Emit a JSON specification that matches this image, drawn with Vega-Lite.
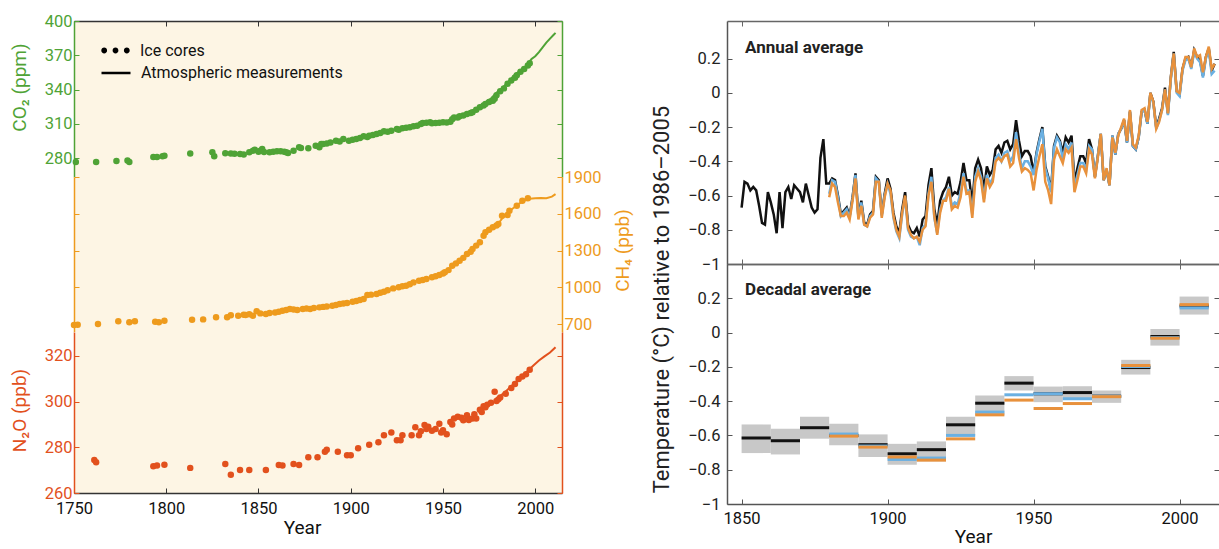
{
  "$schema": "https://vega.github.io/schema/vega-lite/v6.json",
  "background": "white",
  "padding": {"left": 10, "top": 13, "right": 0, "bottom": 0},
  "bounds": "full",
  "spacing": 18,
  "config": {
    "font": "Roboto, Liberation Sans, sans-serif",
    "view": {"stroke": null},
    "axis": {"grid": false, "labelFlush": false, "labelOverlap": false, "tickSize": -5, "tickWidth": 1, "domainWidth": 1.5, "labelFontSize": 16.5, "titleFontSize": 19, "titleFontWeight": "normal", "labelPadding": 7, "labelColor": "#222", "titleColor": "#222", "domainColor": "#444", "tickColor": "#444"}
  },
  "datasets": {
    "co2Ice": [
      {"year":1751,"v":276.5},{"year":1762,"v":276.5},{"year":1773,"v":277.4},{"year":1779,"v":277.8},{"year":1780,"v":276.5},{"year":1793,"v":281},{"year":1795,"v":281},{"year":1798,"v":281.5},{"year":1799,"v":282},{"year":1813,"v":284},{"year":1825,"v":285},{"year":1826,"v":281.5},{"year":1832,"v":284.1},{"year":1835,"v":283.9},{"year":1837,"v":283.8},{"year":1840,"v":283.5},{"year":1842,"v":283.2},{"year":1845,"v":285},{"year":1847,"v":286.4},{"year":1848,"v":287.3},{"year":1850,"v":285.6},{"year":1851,"v":286.4},{"year":1852,"v":288},{"year":1853,"v":285.2},{"year":1856,"v":285},{"year":1858,"v":285.5},{"year":1860,"v":285.9},{"year":1862,"v":285.9},{"year":1864,"v":285.5},{"year":1865,"v":285},{"year":1866,"v":284.4},{"year":1869,"v":286.4},{"year":1872,"v":289.4},{"year":1873,"v":288.8},{"year":1877,"v":288.5},{"year":1881,"v":290.8},{"year":1883,"v":289.4},{"year":1884,"v":292.3},{"year":1885,"v":292.3},{"year":1887,"v":292.8},{"year":1889,"v":293.7},{"year":1892,"v":295.2},{"year":1894,"v":294.5},{"year":1896,"v":296.6},{"year":1899,"v":295.2},{"year":1901,"v":296},{"year":1903,"v":296.6},{"year":1905,"v":297.5},{"year":1907,"v":299},{"year":1909,"v":298.5},{"year":1910,"v":299.5},{"year":1912,"v":300.2},{"year":1914,"v":301},{"year":1916,"v":302},{"year":1918,"v":303.4},{"year":1920,"v":303},{"year":1922,"v":303.9},{"year":1925,"v":305.4},{"year":1926,"v":304.8},{"year":1928,"v":306},{"year":1930,"v":306.5},{"year":1932,"v":306.9},{"year":1934,"v":307.8},{"year":1936,"v":308.3},{"year":1938,"v":309.8},{"year":1939,"v":310.7},{"year":1941,"v":311},{"year":1943,"v":311.3},{"year":1944,"v":310.5},{"year":1946,"v":310.7},{"year":1948,"v":311},{"year":1950,"v":311.3},{"year":1952,"v":311.2},{"year":1954,"v":311.8},{"year":1955,"v":314},{"year":1956,"v":315.6},{"year":1958,"v":315.5},{"year":1959,"v":316.5},{"year":1961,"v":317.3},{"year":1963,"v":318.5},{"year":1965,"v":319.5},{"year":1966,"v":320},{"year":1968,"v":322.3},{"year":1970,"v":324.4},{"year":1972,"v":326},{"year":1973,"v":327.3},{"year":1975,"v":329},{"year":1977,"v":330.2},{"year":1978,"v":332},{"year":1979,"v":335},{"year":1981,"v":338.5},{"year":1983,"v":341},{"year":1985,"v":345},{"year":1987,"v":348},{"year":1989,"v":350.4},{"year":1990,"v":352.5},{"year":1992,"v":355.5},{"year":1994,"v":358},{"year":1996,"v":361},{"year":1997,"v":363}
    ],
    "co2Atm": [
      {"year":1958,"v":315.3},{"year":1960,"v":316.9},{"year":1962,"v":318.4},{"year":1964,"v":319.6},{"year":1966,"v":321.4},{"year":1968,"v":323},{"year":1970,"v":325.7},{"year":1972,"v":327.5},{"year":1974,"v":330.2},{"year":1976,"v":332.1},{"year":1978,"v":335.4},{"year":1980,"v":338.8},{"year":1982,"v":341.1},{"year":1984,"v":344.4},{"year":1986,"v":347.2},{"year":1988,"v":351.6},{"year":1990,"v":354.4},{"year":1992,"v":356.4},{"year":1994,"v":358.8},{"year":1996,"v":362.6},{"year":1998,"v":366.7},{"year":2000,"v":369.2},{"year":2002,"v":372.8},{"year":2004,"v":377},{"year":2006,"v":381},{"year":2008,"v":384.6},{"year":2010,"v":388},{"year":2011,"v":389.6}
    ],
    "ch4Ice": [
      {"year":1750,"v":692},{"year":1752,"v":694},{"year":1763,"v":700},{"year":1774,"v":722},{"year":1780,"v":714},{"year":1783,"v":722},{"year":1794,"v":719},{"year":1796,"v":714},{"year":1799,"v":727},{"year":1814,"v":735},{"year":1820,"v":738},{"year":1827,"v":755},{"year":1833,"v":755},{"year":1835,"v":771},{"year":1839,"v":768},{"year":1842,"v":776},{"year":1843,"v":773},{"year":1845,"v":780},{"year":1847,"v":768},{"year":1849,"v":804},{"year":1851,"v":787},{"year":1854,"v":782},{"year":1856,"v":790},{"year":1859,"v":795},{"year":1861,"v":800},{"year":1863,"v":809},{"year":1865,"v":815},{"year":1867,"v":822},{"year":1869,"v":818},{"year":1871,"v":814},{"year":1874,"v":822},{"year":1876,"v":826},{"year":1878,"v":822},{"year":1880,"v":830},{"year":1883,"v":836},{"year":1885,"v":840},{"year":1887,"v":844},{"year":1890,"v":849},{"year":1892,"v":855},{"year":1894,"v":863},{"year":1896,"v":867},{"year":1898,"v":871},{"year":1901,"v":882},{"year":1903,"v":888},{"year":1905,"v":896},{"year":1907,"v":905},{"year":1909,"v":937},{"year":1911,"v":940},{"year":1914,"v":945},{"year":1916,"v":955},{"year":1918,"v":964},{"year":1920,"v":975},{"year":1923,"v":991},{"year":1926,"v":1000},{"year":1928,"v":1008},{"year":1930,"v":1013},{"year":1932,"v":1025},{"year":1934,"v":1040},{"year":1937,"v":1053},{"year":1939,"v":1060},{"year":1941,"v":1067},{"year":1944,"v":1081},{"year":1946,"v":1090},{"year":1948,"v":1100},{"year":1950,"v":1112},{"year":1951,"v":1122},{"year":1953,"v":1140},{"year":1955,"v":1176},{"year":1957,"v":1195},{"year":1959,"v":1217},{"year":1961,"v":1240},{"year":1963,"v":1271},{"year":1965,"v":1290},{"year":1966,"v":1312},{"year":1968,"v":1340},{"year":1970,"v":1367},{"year":1972,"v":1420},{"year":1973,"v":1449},{"year":1975,"v":1470},{"year":1977,"v":1489},{"year":1979,"v":1505},{"year":1980,"v":1516},{"year":1982,"v":1584},{"year":1985,"v":1589},{"year":1986,"v":1625},{"year":1990,"v":1666},{"year":1993,"v":1707},{"year":1996,"v":1726}
    ],
    "ch4Atm": [
      {"year":1979,"v":1500},{"year":1982,"v":1560},{"year":1985,"v":1610},{"year":1988,"v":1645},{"year":1991,"v":1680},{"year":1994,"v":1705},{"year":1997,"v":1722},{"year":2000,"v":1727},{"year":2003,"v":1728},{"year":2006,"v":1727},{"year":2009,"v":1740},{"year":2011,"v":1760}
    ],
    "n2oIce": [
      {"year":1761,"v":274.5},{"year":1762,"v":273.5},{"year":1793,"v":271.7},{"year":1795,"v":272},{"year":1799,"v":272.4},{"year":1813,"v":271},{"year":1832,"v":272.7},{"year":1835,"v":268},{"year":1840,"v":270.1},{"year":1845,"v":270.1},{"year":1854,"v":270.1},{"year":1861,"v":272.3},{"year":1863,"v":272},{"year":1869,"v":272.7},{"year":1872,"v":272.3},{"year":1877,"v":275.7},{"year":1882,"v":275.7},{"year":1886,"v":278.1},{"year":1887,"v":278.9},{"year":1893,"v":278.1},{"year":1898,"v":276.5},{"year":1900,"v":276.5},{"year":1904,"v":279.6},{"year":1910,"v":281.1},{"year":1915,"v":282.2},{"year":1918,"v":285.3},{"year":1922,"v":286.5},{"year":1925,"v":283.1},{"year":1927,"v":283.1},{"year":1928,"v":285.3},{"year":1933,"v":285.3},{"year":1935,"v":288.8},{"year":1937,"v":285.3},{"year":1938,"v":287},{"year":1940,"v":289.8},{"year":1941,"v":288},{"year":1942,"v":289},{"year":1944,"v":287.3},{"year":1946,"v":288},{"year":1948,"v":290.3},{"year":1949,"v":286.5},{"year":1950,"v":287.5},{"year":1952,"v":285.7},{"year":1954,"v":291.1},{"year":1955,"v":290},{"year":1956,"v":292.6},{"year":1958,"v":293.4},{"year":1960,"v":293},{"year":1961,"v":291.9},{"year":1963,"v":294.1},{"year":1964,"v":292},{"year":1966,"v":292.6},{"year":1967,"v":294.5},{"year":1968,"v":292.6},{"year":1970,"v":296.5},{"year":1971,"v":295.5},{"year":1972,"v":298},{"year":1973,"v":297.5},{"year":1974,"v":298.7},{"year":1976,"v":299.5},{"year":1978,"v":304.3},{"year":1979,"v":300.3},{"year":1980,"v":301},{"year":1981,"v":301.8},{"year":1984,"v":303.5},{"year":1987,"v":306},{"year":1989,"v":307.7},{"year":1991,"v":309.9},{"year":1993,"v":311},{"year":1995,"v":312},{"year":1997,"v":314}
    ],
    "n2oAtm": [
      {"year":1978,"v":300.5},{"year":1981,"v":302.5},{"year":1984,"v":304.5},{"year":1987,"v":306.8},{"year":1990,"v":309},{"year":1993,"v":311.2},{"year":1996,"v":313.5},{"year":1999,"v":315.8},{"year":2002,"v":318},{"year":2005,"v":319.8},{"year":2008,"v":321.5},{"year":2011,"v":323.8}
    ],
    "annual": [
      {"year":1850,"black":-0.67},{"year":1851,"black":-0.52},{"year":1852,"black":-0.53},{"year":1853,"black":-0.57},{"year":1854,"black":-0.55},{"year":1855,"black":-0.57},{"year":1856,"black":-0.66},{"year":1857,"black":-0.76},{"year":1858,"black":-0.77},{"year":1859,"black":-0.58},
      {"year":1860,"black":-0.64},{"year":1861,"black":-0.71},{"year":1862,"black":-0.82},{"year":1863,"black":-0.58},{"year":1864,"black":-0.79},{"year":1865,"black":-0.58},{"year":1866,"black":-0.55},{"year":1867,"black":-0.62},{"year":1868,"black":-0.54},{"year":1869,"black":-0.56},
      {"year":1870,"black":-0.58},{"year":1871,"black":-0.64},{"year":1872,"black":-0.53},{"year":1873,"black":-0.60},{"year":1874,"black":-0.67},{"year":1875,"black":-0.70},{"year":1876,"black":-0.68},{"year":1877,"black":-0.38},{"year":1878,"black":-0.27},{"year":1879,"black":-0.53},
      {"year":1880,"black":-0.53,"blue":-0.59,"orange":-0.61},{"year":1881,"black":-0.50,"blue":-0.51,"orange":-0.53},{"year":1882,"black":-0.51,"blue":-0.52,"orange":-0.55},{"year":1883,"black":-0.60,"blue":-0.61,"orange":-0.64},{"year":1884,"black":-0.71,"blue":-0.72,"orange":-0.72},{"year":1885,"black":-0.69,"blue":-0.70,"orange":-0.72},{"year":1886,"black":-0.67,"blue":-0.68,"orange":-0.70},{"year":1887,"black":-0.72,"blue":-0.73,"orange":-0.74},{"year":1888,"black":-0.61,"blue":-0.62,"orange":-0.63},{"year":1889,"black":-0.47,"blue":-0.48,"orange":-0.50},
      {"year":1890,"black":-0.72,"blue":-0.73,"orange":-0.74},{"year":1891,"black":-0.63,"blue":-0.64,"orange":-0.66},{"year":1892,"black":-0.76,"blue":-0.77,"orange":-0.77},{"year":1893,"black":-0.77,"blue":-0.78,"orange":-0.78},{"year":1894,"black":-0.71,"blue":-0.72,"orange":-0.73},{"year":1895,"black":-0.69,"blue":-0.70,"orange":-0.71},{"year":1896,"black":-0.49,"blue":-0.50,"orange":-0.52},{"year":1897,"black":-0.51,"blue":-0.52,"orange":-0.52},{"year":1898,"black":-0.71,"blue":-0.72,"orange":-0.73},{"year":1899,"black":-0.59,"blue":-0.60,"orange":-0.61},
      {"year":1900,"black":-0.50,"blue":-0.53,"orange":-0.53},{"year":1901,"black":-0.56,"blue":-0.59,"orange":-0.57},{"year":1902,"black":-0.70,"blue":-0.73,"orange":-0.72},{"year":1903,"black":-0.78,"blue":-0.81,"orange":-0.80},{"year":1904,"black":-0.82,"blue":-0.85,"orange":-0.84},{"year":1905,"black":-0.68,"blue":-0.71,"orange":-0.70},{"year":1906,"black":-0.58,"blue":-0.61,"orange":-0.60},{"year":1907,"black":-0.77,"blue":-0.80,"orange":-0.79},{"year":1908,"black":-0.81,"blue":-0.84,"orange":-0.83},{"year":1909,"black":-0.82,"blue":-0.85,"orange":-0.85},
      {"year":1910,"black":-0.79,"blue":-0.84,"orange":-0.84},{"year":1911,"black":-0.84,"blue":-0.89,"orange":-0.87},{"year":1912,"black":-0.74,"blue":-0.79,"orange":-0.80},{"year":1913,"black":-0.72,"blue":-0.77,"orange":-0.78},{"year":1914,"black":-0.54,"blue":-0.59,"orange":-0.60},{"year":1915,"black":-0.44,"blue":-0.49,"orange":-0.52},{"year":1916,"black":-0.68,"blue":-0.73,"orange":-0.72},{"year":1917,"black":-0.77,"blue":-0.82,"orange":-0.83},{"year":1918,"black":-0.63,"blue":-0.68,"orange":-0.70},{"year":1919,"black":-0.58,"blue":-0.63,"orange":-0.63},
      {"year":1920,"black":-0.55,"blue":-0.61,"orange":-0.63},{"year":1921,"black":-0.49,"blue":-0.55,"orange":-0.56},{"year":1922,"black":-0.60,"blue":-0.66,"orange":-0.68},{"year":1923,"black":-0.58,"blue":-0.64,"orange":-0.66},{"year":1924,"black":-0.59,"blue":-0.65,"orange":-0.67},{"year":1925,"black":-0.52,"blue":-0.58,"orange":-0.61},{"year":1926,"black":-0.41,"blue":-0.47,"orange":-0.49},{"year":1927,"black":-0.51,"blue":-0.57,"orange":-0.59},{"year":1928,"black":-0.51,"blue":-0.57,"orange":-0.58},{"year":1929,"black":-0.65,"blue":-0.71,"orange":-0.73},
      {"year":1930,"black":-0.44,"blue":-0.49,"orange":-0.52},{"year":1931,"black":-0.39,"blue":-0.44,"orange":-0.46},{"year":1932,"black":-0.44,"blue":-0.49,"orange":-0.51},{"year":1933,"black":-0.57,"blue":-0.62,"orange":-0.64},{"year":1934,"black":-0.43,"blue":-0.48,"orange":-0.50},{"year":1935,"black":-0.48,"blue":-0.53,"orange":-0.55},{"year":1936,"black":-0.45,"blue":-0.50,"orange":-0.52},{"year":1937,"black":-0.33,"blue":-0.38,"orange":-0.40},{"year":1938,"black":-0.31,"blue":-0.36,"orange":-0.38},{"year":1939,"black":-0.35,"blue":-0.40,"orange":-0.40},
      {"year":1940,"black":-0.29,"blue":-0.35,"orange":-0.37},{"year":1941,"black":-0.28,"blue":-0.34,"orange":-0.36},{"year":1942,"black":-0.33,"blue":-0.40,"orange":-0.43},{"year":1943,"black":-0.30,"blue":-0.37,"orange":-0.41},{"year":1944,"black":-0.16,"blue":-0.23,"orange":-0.27},{"year":1945,"black":-0.28,"blue":-0.35,"orange":-0.38},{"year":1946,"black":-0.37,"blue":-0.44,"orange":-0.46},{"year":1947,"black":-0.34,"blue":-0.40,"orange":-0.44},{"year":1948,"black":-0.34,"blue":-0.40,"orange":-0.45},{"year":1949,"black":-0.37,"blue":-0.43,"orange":-0.47},
      {"year":1950,"black":-0.47,"blue":-0.48,"orange":-0.57},{"year":1951,"black":-0.35,"blue":-0.36,"orange":-0.45},{"year":1952,"black":-0.27,"blue":-0.28,"orange":-0.37},{"year":1953,"black":-0.20,"blue":-0.21,"orange":-0.30},{"year":1954,"black":-0.43,"blue":-0.44,"orange":-0.52},{"year":1955,"black":-0.49,"blue":-0.50,"orange":-0.57},{"year":1956,"black":-0.57,"blue":-0.58,"orange":-0.65},{"year":1957,"black":-0.31,"blue":-0.32,"orange":-0.39},{"year":1958,"black":-0.25,"blue":-0.26,"orange":-0.33},{"year":1959,"black":-0.28,"blue":-0.29,"orange":-0.37},
      {"year":1960,"black":-0.35,"blue":-0.39,"orange":-0.41},{"year":1961,"black":-0.26,"blue":-0.30,"orange":-0.33},{"year":1962,"black":-0.29,"blue":-0.33,"orange":-0.35},{"year":1963,"black":-0.25,"blue":-0.29,"orange":-0.32},{"year":1964,"black":-0.52,"blue":-0.55,"orange":-0.58},{"year":1965,"black":-0.44,"blue":-0.48,"orange":-0.51},{"year":1966,"black":-0.37,"blue":-0.41,"orange":-0.43},{"year":1967,"black":-0.37,"blue":-0.41,"orange":-0.43},{"year":1968,"black":-0.41,"blue":-0.45,"orange":-0.47},{"year":1969,"black":-0.27,"blue":-0.31,"orange":-0.33},
      {"year":1970,"black":-0.33,"blue":-0.33,"orange":-0.36},{"year":1971,"black":-0.49,"blue":-0.49,"orange":-0.50},{"year":1972,"black":-0.37,"blue":-0.37,"orange":-0.38},{"year":1973,"black":-0.24,"blue":-0.24,"orange":-0.24},{"year":1974,"black":-0.51,"blue":-0.51,"orange":-0.51},{"year":1975,"black":-0.45,"blue":-0.45,"orange":-0.44},{"year":1976,"black":-0.54,"blue":-0.54,"orange":-0.54},{"year":1977,"black":-0.25,"blue":-0.25,"orange":-0.26},{"year":1978,"black":-0.36,"blue":-0.36,"orange":-0.35},{"year":1979,"black":-0.24,"blue":-0.24,"orange":-0.25},
      {"year":1980,"black":-0.21,"blue":-0.21,"orange":-0.20},{"year":1981,"black":-0.16,"blue":-0.16,"orange":-0.15},{"year":1982,"black":-0.29,"blue":-0.29,"orange":-0.28},{"year":1983,"black":-0.11,"blue":-0.11,"orange":-0.10},{"year":1984,"black":-0.31,"blue":-0.31,"orange":-0.30},{"year":1985,"black":-0.33,"blue":-0.33,"orange":-0.32},{"year":1986,"black":-0.26,"blue":-0.26,"orange":-0.25},{"year":1987,"black":-0.11,"blue":-0.11,"orange":-0.10},{"year":1988,"black":-0.10,"blue":-0.10,"orange":-0.09},{"year":1989,"black":-0.18,"blue":-0.18,"orange":-0.17},
      {"year":1990,"black":0.00,"blue":-0.01,"orange":0.00},{"year":1991,"black":-0.05,"blue":-0.06,"orange":-0.05},{"year":1992,"black":-0.20,"blue":-0.21,"orange":-0.21},{"year":1993,"black":-0.15,"blue":-0.16,"orange":-0.17},{"year":1994,"black":-0.09,"blue":-0.10,"orange":-0.10},{"year":1995,"black":0.03,"blue":0.02,"orange":0.02},{"year":1996,"black":-0.12,"blue":-0.13,"orange":-0.12},{"year":1997,"black":0.09,"blue":0.08,"orange":0.09},{"year":1998,"black":0.24,"blue":0.23,"orange":0.23},{"year":1999,"black":0.01,"blue":0.00,"orange":0.01},
      {"year":2000,"black":-0.01,"blue":-0.02,"orange":0.00},{"year":2001,"black":0.14,"blue":0.13,"orange":0.14},{"year":2002,"black":0.20,"blue":0.19,"orange":0.21},{"year":2003,"black":0.21,"blue":0.20,"orange":0.21},{"year":2004,"black":0.15,"blue":0.14,"orange":0.15},{"year":2005,"black":0.25,"blue":0.24,"orange":0.26},{"year":2006,"black":0.21,"blue":0.20,"orange":0.21},{"year":2007,"black":0.19,"blue":0.18,"orange":0.22},{"year":2008,"black":0.10,"blue":0.09,"orange":0.12},{"year":2009,"black":0.21,"blue":0.20,"orange":0.21},{"year":2010,"black":0.26,"blue":0.25,"orange":0.27},{"year":2011,"black":0.13,"blue":0.11,"orange":0.14},{"year":2012,"black":0.17,"blue":0.13,"orange":0.17}
    ],
    "decadal": [
      {"start":1850,"end":1860,"lo":-0.703,"hi":-0.536,"black":-0.615},
      {"start":1860,"end":1870,"lo":-0.711,"hi":-0.561,"black":-0.631},
      {"start":1870,"end":1880,"lo":-0.619,"hi":-0.491,"black":-0.555},
      {"start":1880,"end":1890,"lo":-0.658,"hi":-0.532,"black":-0.600,"blue":-0.592,"orange":-0.604},
      {"start":1890,"end":1900,"lo":-0.726,"hi":-0.594,"black":-0.654,"blue":-0.662,"orange":-0.668},
      {"start":1900,"end":1910,"lo":-0.771,"hi":-0.649,"black":-0.707,"blue":-0.740,"orange":-0.726},
      {"start":1910,"end":1920,"lo":-0.751,"hi":-0.635,"black":-0.683,"blue":-0.732,"orange":-0.744},
      {"start":1920,"end":1930,"lo":-0.600,"hi":-0.491,"black":-0.538,"blue":-0.600,"orange":-0.620},
      {"start":1930,"end":1940,"lo":-0.483,"hi":-0.367,"black":-0.412,"blue":-0.464,"orange":-0.480},
      {"start":1940,"end":1950,"lo":-0.338,"hi":-0.254,"black":-0.295,"blue":-0.363,"orange":-0.394},
      {"start":1950,"end":1960,"lo":-0.406,"hi":-0.315,"black":-0.357,"blue":-0.357,"orange":-0.443},
      {"start":1960,"end":1970,"lo":-0.386,"hi":-0.313,"black":-0.350,"blue":-0.386,"orange":-0.414},
      {"start":1970,"end":1980,"lo":-0.410,"hi":-0.338,"black":-0.371,"blue":-0.372,"orange":-0.374},
      {"start":1980,"end":1990,"lo":-0.245,"hi":-0.159,"black":-0.204,"blue":-0.198,"orange":-0.192},
      {"start":1990,"end":2000,"lo":-0.076,"hi":0.021,"black":-0.023,"blue":-0.030,"orange":-0.033},
      {"start":2000,"end":2010,"lo":0.105,"hi":0.210,"black":0.155,"blue":0.144,"orange":0.163}
    ]
  },
  "hconcat": [
    {
      "spacing": 0,
      "bounds": "flush",
      "vconcat": [
        {
          "width": 488, "height": 156,
          "view": {"fill": "#fdf5e4", "stroke": null},
          "encoding": {"x": {"field": "year", "type": "quantitative", "scale": {"domain": [1750, 2014.5], "nice": false, "zero": false}, "axis": {"orient": "top", "values": [1750,1800,1850,1900,1950,2000], "labels": false, "title": null, "domainColor": "#333", "tickColor": "#333"}}},
          "layer": [
            {"data": {"name": "co2Ice"}, "mark": {"type": "circle", "size": 42, "color": "#4fa336", "opacity": 1},
             "encoding": {"y": {"field": "v", "type": "quantitative", "scale": {"domain": [263.4, 400], "nice": false, "zero": false},
               "axis": {"orient": "left", "values": [280,310,340,370,400], "title": "CO₂ (ppm)", "titleX": -55, "titleY": 66, "titleAngle": -90, "titleAlign": "center", "titleBaseline": "middle", "labelColor": "#4fa336", "titleColor": "#4fa336", "domainColor": "#4fa336", "tickColor": "#4fa336"}}}},
            {"data": {"name": "co2Atm"}, "mark": {"type": "line", "color": "#4fa336", "strokeWidth": 2},
             "encoding": {"y": {"field": "v", "type": "quantitative", "axis": {"orient": "right", "values": [280,310,340,370,400], "labels": false, "title": null, "domainColor": "#4fa336", "tickColor": "#4fa336"}}}},
            {"data": {"values": [{"k": "Ice cores"}]},
             "mark": {"type": "point", "filled": true, "color": "black", "opacity": 1},
             "encoding": {"shape": {"field": "k", "type": "nominal",
               "scale": {"domain": ["Ice cores"], "range": ["M-0.98,0A0.2,0.2,0,1,1,-0.58,0A0.2,0.2,0,1,1,-0.98,0ZM-0.2,0A0.2,0.2,0,1,1,0.2,0A0.2,0.2,0,1,1,-0.2,0ZM0.58,0A0.2,0.2,0,1,1,0.98,0A0.2,0.2,0,1,1,0.58,0Z"]},
               "legend": {"orient": "none", "legendX": 26, "legendY": 14, "title": null, "symbolSize": 841, "symbolFillColor": "black", "symbolStrokeColor": "black", "symbolStrokeWidth": 2, "symbolOpacity": 1, "labelFontSize": 16, "labelColor": "#111", "labelOffset": 9, "labelLimit": 400}}}},
            {"data": {"values": [{"k": "Atmospheric measurements"}]},
             "mark": {"type": "line", "color": "black", "strokeWidth": 2.5},
             "encoding": {"strokeDash": {"field": "k", "type": "nominal",
               "scale": {"domain": ["Atmospheric measurements"], "range": [[1, 0]]},
               "legend": {"orient": "none", "legendX": 26, "legendY": 36, "title": null, "symbolSize": 841, "symbolStrokeColor": "black", "symbolStrokeWidth": 2.5, "symbolOpacity": 1, "labelFontSize": 16, "labelColor": "#111", "labelOffset": 9, "labelLimit": 400}}}}
          ],
          "resolve": {"axis": {"y": "independent"}}
        },
        {
          "width": 488, "height": 155,
          "view": {"fill": "#fdf5e4", "stroke": null},
          "encoding": {"x": {"field": "year", "type": "quantitative", "scale": {"domain": [1750, 2014.5], "nice": false, "zero": false}, "axis": null}},
          "layer": [
            {"data": {"name": "ch4Ice"}, "mark": {"type": "circle", "size": 42, "color": "#ee9b1d", "opacity": 1},
             "encoding": {"y": {"field": "v", "type": "quantitative", "scale": {"domain": [635, 1900], "nice": false, "zero": false},
               "axis": {"orient": "left", "values": [700,1000,1300,1600,1900], "labels": false, "title": null, "domainColor": "#ee9b1d", "tickColor": "#ee9b1d"}}}},
            {"data": {"name": "ch4Atm"}, "mark": {"type": "line", "color": "#ee9b1d", "strokeWidth": 2},
             "encoding": {"y": {"field": "v", "type": "quantitative",
               "axis": {"orient": "right", "values": [700,1000,1300,1600,1900], "format": "d", "title": "CH₄ (ppb)", "titleX": 60, "titleY": 73, "titleAngle": -90, "titleAlign": "center", "titleBaseline": "middle", "labelColor": "#ee9b1d", "titleColor": "#ee9b1d", "domainColor": "#ee9b1d", "tickColor": "#ee9b1d"}}}}
          ],
          "resolve": {"axis": {"y": "independent"}}
        },
        {
          "width": 488, "height": 161,
          "view": {"fill": "#fdf5e4", "stroke": null},
          "encoding": {"x": {"field": "year", "type": "quantitative", "scale": {"domain": [1750, 2014.5], "nice": false, "zero": false}, "axis": {"orient": "bottom", "values": [1750,1800,1850,1900,1950,2000], "format": "d", "title": "Year", "titleX": 228, "labelPadding": 12, "labelColor": "#111", "titleColor": "#111", "domainColor": "#333", "tickColor": "#333", "titlePadding": 2}}},
          "layer": [
            {"data": {"name": "n2oIce"}, "mark": {"type": "circle", "size": 42, "color": "#e2511d", "opacity": 1},
             "encoding": {"y": {"field": "v", "type": "quantitative", "scale": {"domain": [260, 330.5], "nice": false, "zero": false},
               "axis": {"orient": "left", "values": [260,280,300,320], "title": "N₂O (ppb)", "titleX": -55, "titleY": 78, "titleAngle": -90, "titleAlign": "center", "titleBaseline": "middle", "labelColor": "#e2511d", "titleColor": "#e2511d", "domainColor": "#e2511d", "tickColor": "#e2511d"}}}},
            {"data": {"name": "n2oAtm"}, "mark": {"type": "line", "color": "#e2511d", "strokeWidth": 2},
             "encoding": {"y": {"field": "v", "type": "quantitative", "axis": {"orient": "right", "values": [260,280,300,320], "labels": false, "title": null, "domainColor": "#e2511d", "tickColor": "#e2511d"}}}}
          ],
          "resolve": {"axis": {"y": "independent"}}
        }
      ]
    },
    {
      "spacing": 0,
      "bounds": "flush",
      "vconcat": [
        {
          "width": 492, "height": 243,
          "layer": [
            {"data": {"name": "annual"}, "mark": {"type": "line", "color": "#111111", "strokeWidth": 2.5},
             "encoding": {
               "x": {"field": "year", "type": "quantitative", "scale": {"domain": [1845, 2013.5], "nice": false, "zero": false}, "axis": {"orient": "top", "values": [1850,1900,1950,2000], "labels": false, "title": null, "domainColor": "#666", "tickColor": "#666"}},
               "y": {"field": "black", "type": "quantitative", "scale": {"domain": [-1, 0.42], "nice": false, "zero": false},
                 "axis": {"orient": "left", "values": [-1,-0.8,-0.6,-0.4,-0.2,0,0.2], "format": "~r", "labelPadding": 12, "title": "Temperature (°C) relative to 1986–2005", "titleFontSize": 22, "titleX": -66, "titleY": 278, "titleAngle": -90, "titleAlign": "center", "titleBaseline": "middle", "domainColor": "#555", "tickColor": "#555"}}}},
            {"data": {"name": "annual"}, "mark": {"type": "line", "color": "#6ab0e2", "strokeWidth": 2.5},
             "encoding": {
               "x": {"field": "year", "type": "quantitative", "axis": {"orient": "bottom", "values": [1850,1900,1950,2000], "labels": false, "title": null, "domainColor": "#666", "tickColor": "#666"}},
               "y": {"field": "blue", "type": "quantitative", "axis": {"orient": "right", "values": [-1,-0.8,-0.6,-0.4,-0.2,0,0.2], "labels": false, "title": null, "domain": false, "tickColor": "#555"}}}},
            {"data": {"name": "annual"}, "mark": {"type": "line", "color": "#e8913c", "strokeWidth": 2.5},
             "encoding": {
               "x": {"field": "year", "type": "quantitative", "axis": null},
               "y": {"field": "orange", "type": "quantitative", "axis": null}}},
            {"data": {"values": [{"label": "Annual average"}]},
             "mark": {"type": "text", "align": "left", "baseline": "middle", "fontSize": 17, "fontWeight": "bold", "color": "#222"},
             "encoding": {
               "x": {"datum": 1851.2, "type": "quantitative", "axis": null},
               "y": {"datum": 0.262, "type": "quantitative", "axis": null},
               "text": {"field": "label", "type": "nominal"}}}
          ],
          "resolve": {"axis": {"x": "independent", "y": "independent"}}
        },
        {
          "width": 492, "height": 240,
          "layer": [
            {"data": {"name": "decadal"}, "mark": {"type": "rect", "color": "#c8c8c8"},
             "encoding": {
               "x": {"field": "start", "type": "quantitative", "scale": {"domain": [1845, 2013.5], "nice": false, "zero": false}, "axis": {"orient": "top", "values": [1850,1900,1950,2000], "labels": false, "title": null, "domainColor": "#666", "tickColor": "#666"}},
               "x2": {"field": "end"},
               "y": {"field": "lo", "type": "quantitative", "scale": {"domain": [-1, 0.4], "nice": false, "zero": false},
                 "axis": {"orient": "left", "values": [-1,-0.8,-0.6,-0.4,-0.2,0,0.2], "format": "~r", "labelPadding": 12, "title": null, "domainColor": "#555", "tickColor": "#555"}},
               "y2": {"field": "hi"}}},
            {"data": {"name": "decadal"}, "mark": {"type": "rule", "color": "#111111", "strokeWidth": 3},
             "encoding": {
               "x": {"field": "start", "type": "quantitative", "axis": {"orient": "bottom", "values": [1850,1900,1950,2000], "format": "d", "title": "Year", "labelPadding": 11, "labelColor": "#111", "titleColor": "#111", "titlePadding": 1, "domainColor": "#555", "tickColor": "#555"}},
               "x2": {"field": "end"},
               "y": {"field": "black", "type": "quantitative", "axis": {"orient": "right", "values": [-1,-0.8,-0.6,-0.4,-0.2,0,0.2], "labels": false, "title": null, "domain": false, "tickColor": "#555"}}}},
            {"data": {"name": "decadal"}, "transform": [{"filter": "datum.blue != null"}],
             "mark": {"type": "rule", "color": "#6ab0e2", "strokeWidth": 3},
             "encoding": {
               "x": {"field": "start", "type": "quantitative", "axis": null},
               "x2": {"field": "end"},
               "y": {"field": "blue", "type": "quantitative", "axis": null}}},
            {"data": {"name": "decadal"}, "transform": [{"filter": "datum.orange != null"}],
             "mark": {"type": "rule", "color": "#e8913c", "strokeWidth": 3},
             "encoding": {
               "x": {"field": "start", "type": "quantitative", "axis": null},
               "x2": {"field": "end"},
               "y": {"field": "orange", "type": "quantitative", "axis": null}}},
            {"data": {"values": [{"label": "Decadal average"}]},
             "mark": {"type": "text", "align": "left", "baseline": "middle", "fontSize": 17, "fontWeight": "bold", "color": "#222"},
             "encoding": {
               "x": {"datum": 1851.2, "type": "quantitative", "axis": null},
               "y": {"datum": 0.248, "type": "quantitative", "axis": null},
               "text": {"field": "label", "type": "nominal"}}}
          ],
          "resolve": {"axis": {"x": "independent", "y": "independent"}}
        }
      ]
    }
  ]
}
